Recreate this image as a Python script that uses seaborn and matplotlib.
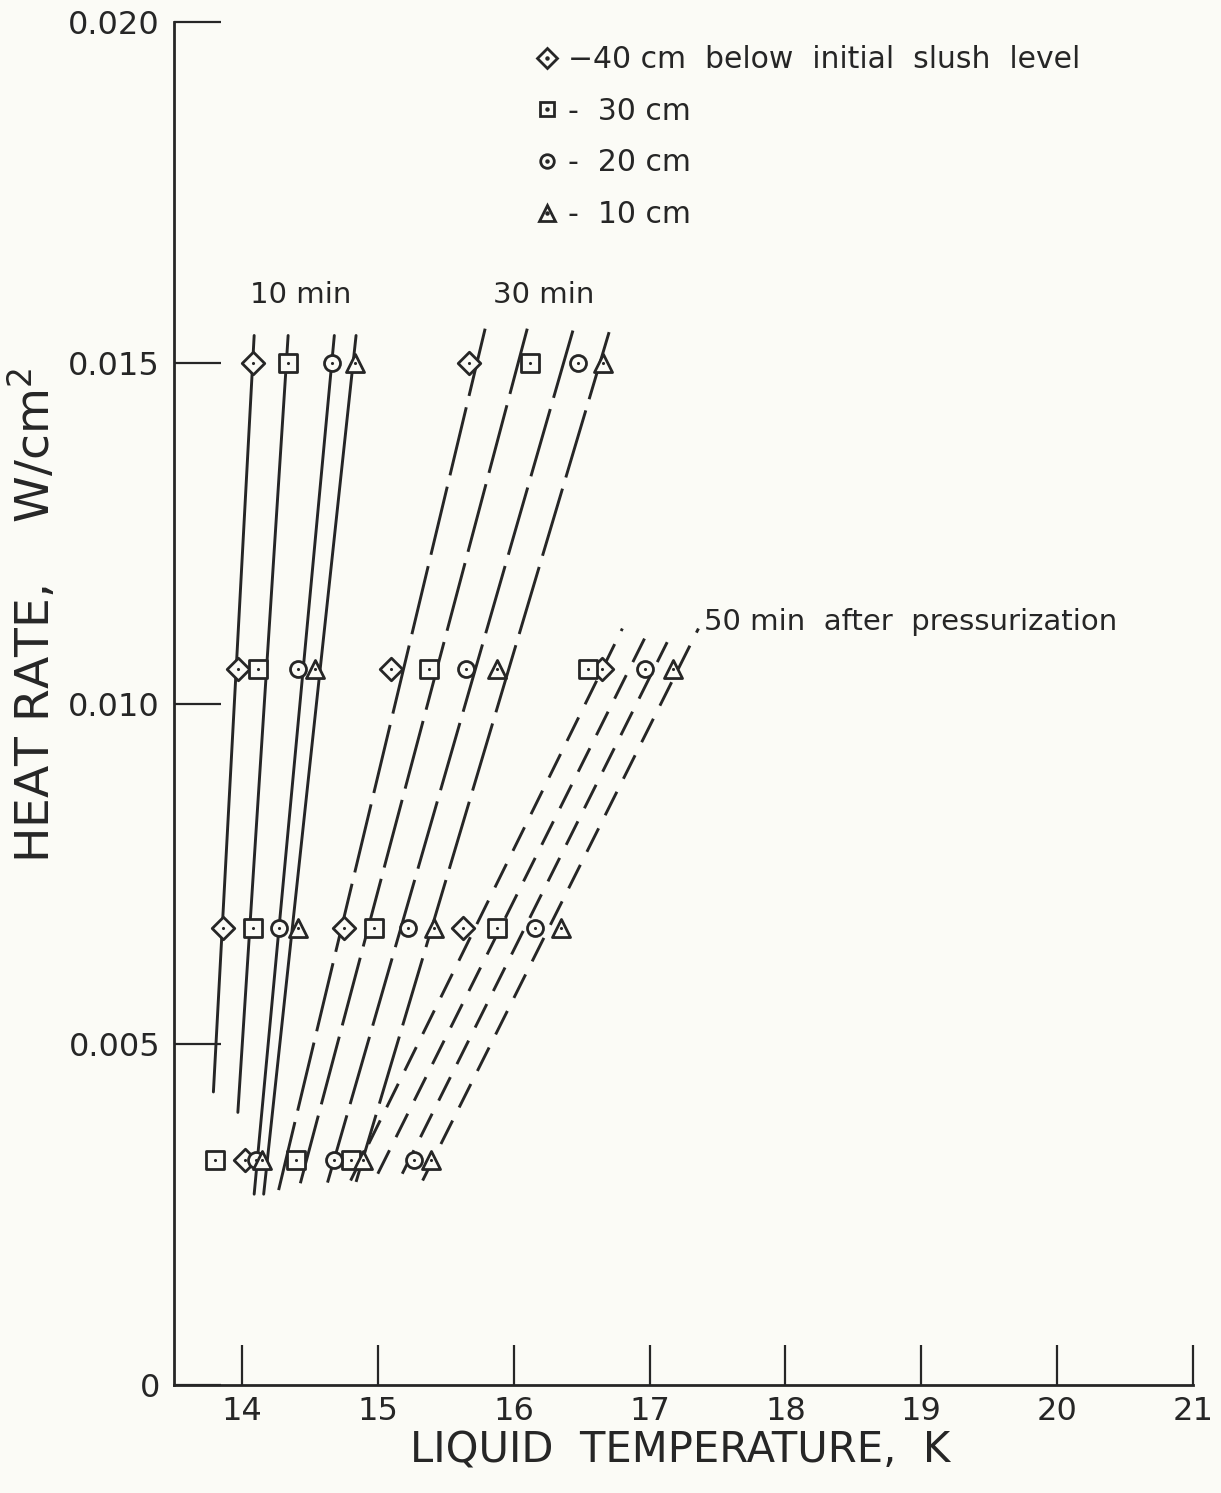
import pandas as pd
import seaborn as sns
import matplotlib.pyplot as plt
from matplotlib.lines import Line2D
from matplotlib.legend_handler import HandlerTuple

# heat rate levels (W/cm^2) at which temperatures were read
heat_rate = [0.0150, 0.0105, 0.0067, 0.0033]

depths = ["40", "30", "20", "10"]
depth_labels = ["\u221240 cm  below  initial  slush  level", "-  30 cm", "-  20 cm", "-  10 cm"]

# liquid temperature (K) per depth, one value per heat rate level (None = no point)
temp_10min = {
    "40": [14.08, 13.97, 13.86, 14.02],
    "30": [14.34, 14.12, 14.08, 13.80],
    "20": [14.66, 14.41, 14.27, 14.10],
    "10": [14.83, 14.54, 14.41, 14.15],
}
temp_30min = {
    "40": [15.67, 15.10, 14.75, None],
    "30": [16.12, 15.38, 14.97, 14.40],
    "20": [16.47, 15.65, 15.22, 14.68],
    "10": [16.66, 15.88, 15.41, 14.89],
}
temp_50min = {
    "40": [None, 16.65, 15.63, None],
    "30": [None, 16.55, 15.88, 14.80],
    "20": [None, 16.97, 16.16, 15.27],
    "10": [None, 17.17, 16.35, 15.39],
}

# fitted lines: (T low, T high) and (q low, q high) for depths 40, 30, 20, 10
fit10_T = [[13.79, 14.09], [13.97, 14.34], [14.09, 14.68], [14.16, 14.84]]
fit10_q = [[0.0043, 0.0154], [0.0040, 0.0154], [0.0028, 0.0154], [0.0028, 0.0154]]
fit30_T = [[14.27, 15.79], [14.43, 16.10], [14.63, 16.44], [14.84, 16.71]]
fit30_q = [[0.00286, 0.0155], [0.00296, 0.0155], [0.00297, 0.0155], [0.00298, 0.0155]]
fit50_T = [[14.80, 16.80], [15.00, 17.00], [15.18, 17.13], [15.33, 17.36]]
fit50_q = [[0.0030, 0.0111], [0.0031, 0.0111], [0.0031, 0.0109], [0.0030, 0.0111]]

x_ticks = [14, 15, 16, 17, 18, 19, 20, 21]
y_ticks = [0, 0.005, 0.010, 0.015, 0.020]
y_ticklabels = ["0", "0.005", "0.010", "0.015", "0.020"]

bg = "#fbfbf6"
ink = "#262626"
markers = {"40": "D", "30": "s", "20": "o", "10": "^"}
msize = {"40": 11.5, "30": 12.5, "20": 11.5, "10": 13}

sns.set_theme(style="ticks")
plt.rcParams["font.family"] = ["DejaVu Sans"]

rows = []
for time, table in [("10", temp_10min), ("30", temp_30min), ("50", temp_50min)]:
    for d in depths:
        for q, t in zip(heat_rate, table[d]):
            if t is not None:
                rows.append({"time": time, "depth": d, "T": t, "q": q})
points = pd.DataFrame(rows)

fig = plt.figure(figsize=(12.21, 14.93), dpi=100, facecolor=bg)
ax = fig.add_axes([174 / 1221, 1 - 1385 / 1493, (1193 - 174) / 1221, (1385 - 22) / 1493])
ax.set_facecolor(bg)

# fitted lines
styles = {"10": "-", "30": (0, (24, 4)), "50": (0, (9, 5))}
for time, fT, fq in [("10", fit10_T, fit10_q), ("30", fit30_T, fit30_q), ("50", fit50_T, fit50_q)]:
    for tt, qq in zip(fT, fq):
        seg = pd.DataFrame({"T": tt, "q": qq})
        sns.lineplot(data=seg, x="T", y="q", estimator=None, sort=False, color=ink,
                     lw=2.1, linestyle=styles[time], ax=ax, zorder=2)

# data points
for d in depths:
    sub = points[points["depth"] == d]
    sns.scatterplot(data=sub, x="T", y="q", marker=markers[d], s=msize[d] ** 2,
                    facecolor=bg, edgecolor=ink, linewidth=2.0, ax=ax, zorder=3, legend=False)
sns.scatterplot(data=points, x="T", y="q", marker="o", s=5, color=ink, linewidth=0,
                ax=ax, zorder=4, legend=False)

ax.set_xlim(13.5, 21)
ax.set_ylim(0, 0.020)
ax.set_xticks(x_ticks)
ax.set_xticklabels([str(v) for v in x_ticks])
ax.set_yticks(y_ticks)
ax.set_yticklabels(y_ticklabels)
ax.tick_params(axis="x", direction="in", length=29, width=1.6, pad=8, labelsize=23, colors=ink)
ax.tick_params(axis="y", direction="in", length=34, width=1.6, pad=10, labelsize=23, colors=ink)
sns.despine(ax=ax)
for s in ["left", "bottom"]:
    ax.spines[s].set_linewidth(2.0)
    ax.spines[s].set_color(ink)

ax.set_xlabel("LIQUID  TEMPERATURE,  K", fontsize=30, color=ink)
ax.xaxis.set_label_coords(0.497, -0.033)
ax.set_ylabel("HEAT RATE,    W/cm$^2$", fontsize=34, color=ink)
ax.yaxis.set_label_coords(-0.112, 0.565)

ax.text(14.43, 0.0160, "10 min", ha="center", va="center", fontsize=21, color=ink)
ax.text(16.22, 0.0160, "30 min", ha="center", va="center", fontsize=21, color=ink)
ax.text(17.40, 0.0112, "50 min  after  pressurization", ha="left", va="center",
        fontsize=21, color=ink)

handles = []
for d in depths:
    h1 = Line2D([], [], marker=markers[d], ms=msize[d] * 0.85, mfc=bg, mec=ink, mew=2, ls="none")
    h2 = Line2D([], [], marker="o", ms=2.2, color=ink, ls="none")
    handles.append((h1, h2))
leg = ax.legend(handles, depth_labels, handler_map={tuple: HandlerTuple(ndivide=1, pad=0)},
                frameon=False, loc="upper left", bbox_to_anchor=(532 / 1221, 1 - 45 / 1493),
                bbox_transform=fig.transFigure, fontsize=21.5, handlelength=1.0,
                handletextpad=0.2, labelspacing=0.76, borderaxespad=0, borderpad=0)
for t in leg.get_texts():
    t.set_color(ink)

fig.savefig("out.png", dpi=100, facecolor=bg)
